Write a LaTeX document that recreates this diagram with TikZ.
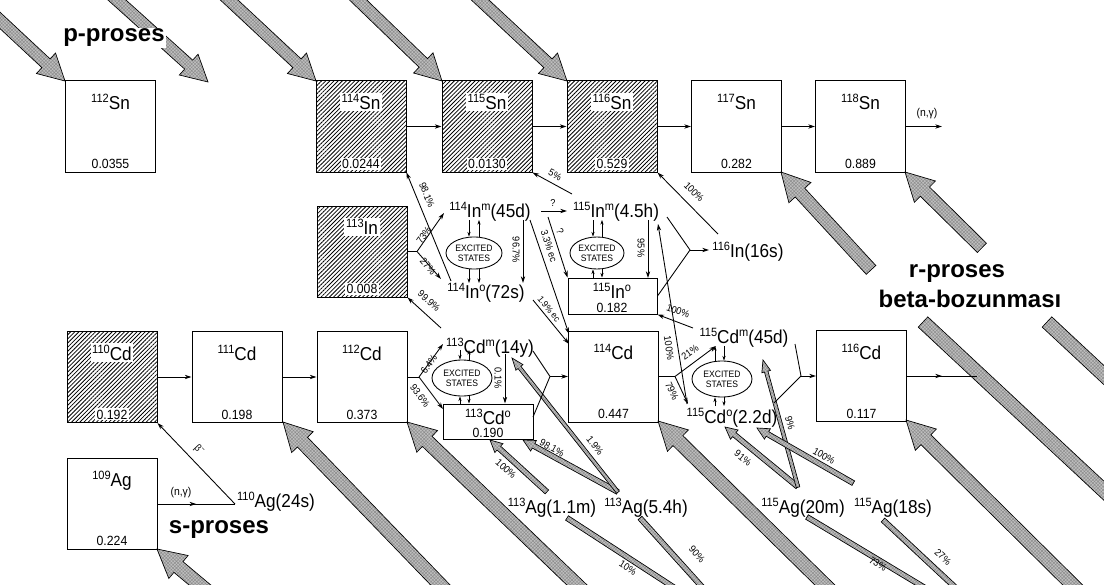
\documentclass[tikz,border=0pt]{standalone}
\usepackage{fontspec}
\setmainfont{Liberation Sans}[FakeStretch=0.92]
\newfontfamily\procfont{Liberation Sans}
\usetikzlibrary{arrows.meta,calc,patterns,patterns.meta,decorations.markings,shapes.geometric}
\newcommand{\nuc}[2]{\raisebox{5.2pt}{\fontsize{9}{9}\selectfont #1}#2}
\newcommand{\sps}[1]{\raisebox{5.2pt}{\fontsize{9}{9}\selectfont #1}}
\newcommand{\GrArrow}[6]{\begin{scope}[shift={#1},rotate=#2]\path[garr] (0,0) -- (-#6,#5) -- (-#6,#4) -- (-#3,#4) -- (-#3,-#4) -- (-#6,-#4) -- (-#6,-#5) -- cycle;\end{scope}}
\newcommand{\GrStrip}[4]{\begin{scope}[shift={#1},rotate=#2]\path[garr] (0,-#4) rectangle (#3,#4);\end{scope}}
\newcommand{\IsoBox}[6]{\node[#1] (#2) at #3 {};
 \node[iso,anchor=base,#1lab] at ($(#2.north)+(0,29)$) {\nuc{#4}{#5}};
 \node[abund,anchor=base,#1lab] at ($(#2.south)+(0,-4)$) {#6};}
\begin{document}
\begin{tikzpicture}[x=0.75pt,y=-0.75pt,
 garr/.style={draw=black, line width=0.5pt, preaction={fill=gray!50}, pattern={Hatch[angle=45,distance=1.8pt,line width=0.35pt]}, pattern color=black!45},
 box/.style={draw, line width=0.75pt, minimum width=67.5pt, minimum height=68.25pt, inner sep=0pt},
 hbox/.style={box, pattern={Lines[angle=45,distance=2.2pt,line width=0.6pt]}},
 boxlab/.style={},
 hboxlab/.style={fill=white},
 iso/.style={font=\fontsize{14}{16}\selectfont, inner sep=1.2pt},
 abund/.style={font=\fontsize{10}{12}\selectfont, inner sep=1pt},
 lbl/.style={font=\fontsize{14}{16}\selectfont, inner sep=0pt, anchor=base},
 pct/.style={font=\fontsize{7.5}{8}\selectfont, inner sep=0.3pt},
 proc/.style={font=\procfont\fontsize{18}{20}\selectfont\bfseries, inner sep=0pt, anchor=base},
 exc/.style={ellipse, draw, line width=0.65pt, inner sep=0pt, align=center, font=\fontsize{7}{7.6}\selectfont},
 ln/.style={line width=0.65pt},
 conn/.style={line width=0.65pt, -{Stealth[length=5pt,width=3.2pt]}},
 sconn/.style={line width=0.5pt, -{Stealth[length=3.5pt,width=2.4pt]}},
 midarr/.style={line width=0.65pt, postaction={decorate}, decoration={markings, mark=at position 0.5 with {\arrow{Stealth[length=5pt,width=3.2pt]}}}}
]
\useasboundingbox (0,0) rectangle (1104,585);
\clip (0,0) rectangle (1104,585);

% ---------- big grey process arrows ----------
% p-process
\GrArrow{(65,81)}{-43}{140}{6}{14}{26}
\GrArrow{(208,82)}{-42}{140}{6}{14}{26}
\GrArrow{(316,81)}{-43}{140}{6}{14}{26}
\GrArrow{(442,81)}{-44}{140}{6}{14}{26}
\GrArrow{(567,81)}{-43}{140}{6}{14}{26}
% r-process
\GrArrow{(781,172)}{132.6}{133}{6.5}{15}{28}
\GrArrow{(905,172)}{135.4}{108}{6.5}{15}{28}
\GrStrip{(923,322)}{-43}{260}{7}
\GrStrip{(1047,322)}{-43}{120}{7}
\GrArrow{(157,549)}{140}{90}{7}{15}{28}
\GrArrow{(283,422)}{134}{260}{7}{15}{28}
\GrArrow{(407,422)}{136.2}{260}{7}{15}{28}
\GrArrow{(658,421)}{135.5}{260}{7}{15}{28}
\GrArrow{(906,420)}{135.3}{260}{7}{15}{28}
% beta decays of Ag
\GrArrow{(490,440)}{137.6}{77}{2.6}{6}{12}
\GrArrow{(523,440)}{151.3}{108}{2.6}{6}{12}
\GrArrow{(512,358)}{128.3}{171}{1.8}{4.5}{12}
\GrArrow{(725,427)}{140.6}{94}{2.6}{6}{12}
\GrArrow{(763,360)}{105.4}{132}{1.8}{4.5}{12}
\GrArrow{(757,428)}{150.2}{111}{2.6}{6}{12}
\GrStrip{(567,518)}{-33}{150}{2.6}
\GrStrip{(640,518)}{-48}{120}{2.6}
\GrStrip{(807,517)}{-31}{150}{2.6}
\GrStrip{(883,520)}{-43}{120}{2.6}

% ---------- boxes ----------
\IsoBox{box}{sn112}{(110.5,126.5)}{112}{Sn}{0.0355}
\IsoBox{hbox}{sn114}{(361,126.5)}{114}{Sn}{0.0244}
\IsoBox{hbox}{sn115}{(487,126.5)}{115}{Sn}{0.0130}
\IsoBox{hbox}{sn116}{(612,126.5)}{116}{Sn}{0.529}
\IsoBox{box}{sn117}{(736.5,126.5)}{117}{Sn}{0.282}
\IsoBox{box}{sn118}{(860.5,126.5)}{118}{Sn}{0.889}
\IsoBox{hbox}{in113}{(362,251.5)}{113}{In}{0.008}
\IsoBox{hbox}{cd110}{(112,377)}{110}{Cd}{0.192}
\IsoBox{box}{cd111}{(237,377)}{111}{Cd}{0.198}
\IsoBox{box}{cd112}{(362,377)}{112}{Cd}{0.373}
\IsoBox{box}{cd114}{(613.5,376.5)}{114}{Cd}{0.447}
\IsoBox{box}{cd116}{(861.5,376)}{116}{Cd}{0.117}
\IsoBox{box}{ag109}{(112,503.5)}{109}{Ag}{0.224}

\node[draw, line width=0.75pt, minimum width=67.5pt, minimum height=26.25pt, inner sep=0pt] (cd113g) at (488,421.5) {};
\node[lbl] at (488,424) {\nuc{113}{Cd}\sps{o}};
\node[abund, anchor=base] at (488,437) {0.190};
\node[draw, line width=0.75pt, minimum width=66.75pt, minimum height=27pt, inner sep=0pt] (in115g) at (612.5,296) {};
\node[lbl] at (612,298) {\nuc{115}{In}\sps{o}};
\node[abund, anchor=base] at (612,312) {0.182};

% ---------- nuclide labels ----------
\node[lbl] (in114m) at (490,217) {\nuc{114}{In}\sps{m}(45d)};
\node[lbl] (in115m) at (616,217) {\nuc{115}{In}\sps{m}(4.5h)};
\node[lbl] (in114g) at (486,298) {\nuc{114}{In}\sps{o}(72s)};
\node[lbl] (in116) at (748,257) {\nuc{116}{In}(16s)};
\node[lbl] (cd113m) at (490,353) {\nuc{113}{Cd}\sps{m}(14y)};
\node[lbl] (cd115m) at (744,343) {\nuc{115}{Cd}\sps{m}(45d)};
\node[lbl] (cd115g) at (732,423) {\nuc{115}{Cd}\sps{o}(2.2d)};
\node[lbl] (ag113a) at (552,513) {\nuc{113}{Ag}(1.1m)};
\node[lbl] (ag113b) at (646,513) {\nuc{113}{Ag}(5.4h)};
\node[lbl] (ag115a) at (803,513) {\nuc{115}{Ag}(20m)};
\node[lbl] (ag115b) at (893,513) {\nuc{115}{Ag}(18s)};
\node[lbl] (ag110) at (276,507) {\nuc{110}{Ag}(24s)};

% ---------- excited states ----------
\node[exc, minimum width=42pt, minimum height=24pt] (e114) at (474,253) {EXCITED\\STATES};
\node[exc, minimum width=40.5pt, minimum height=24pt] (e115) at (597,253) {EXCITED\\STATES};
\node[exc, minimum width=45pt, minimum height=27pt] (e113) at (462,378) {EXCITED\\STATES};
\node[exc, minimum width=45pt, minimum height=27pt] (e115c) at (722,379) {EXCITED\\STATES};

\draw[sconn] (469,220) -- (e114.north -| 469,0);
\draw[sconn] (e114.north -| 479,0) -- (479,220);
\draw[sconn] (e114.south -| 469,0) -- (469,283);
\draw[sconn] (479,269) -- (479,283);
\draw[sconn] (593,220) -- (e115.north -| 593,0);
\draw[sconn] (e115.north -| 602,0) -- (602,220);
\draw[sconn] (in115g.north -| 593,0) -- (e115.south -| 593,0);
\draw[sconn] (e115.south -| 602,0) -- (in115g.north -| 602,0);
\draw[sconn] (460,350) -- (e113.north -| 460,0);
\draw[sconn] (e113.north -| 469,0) -- (469,350);
\draw[sconn] (cd113g.north -| 460,0) -- (e113.south -| 460,0);
\draw[sconn] (e113.south -| 469,0) -- (cd113g.north -| 469,0);
\draw[sconn] (e115c.north -| 715,0) -- (715,346);
\draw[sconn] (724,346) -- (e115c.north -| 724,0);
\draw[sconn] (715,406) -- (e115c.south -| 715,0);
\draw[sconn] (e115c.south -| 724,0) -- (724,406);

% ---------- coordinates ----------
\coordinate (ngout) at (942,126.5);
\coordinate (b112) at (419,377);
\coordinate (t64) at (443,344);
\coordinate (t936) at (443,409);
\coordinate (b113) at (417,251.5);
\coordinate (t73) at (444,213);
\coordinate (t27) at (441,279);
\coordinate (s981) at (451,281);
\coordinate (s999) at (441,328);
\coordinate (s967) at (523,220);
\coordinate (t967) at (523,283);
\coordinate (s33) at (530,220);
\coordinate (t33) at (569,334);
\coordinate (s19) at (533,300);
\coordinate (t19) at (569,344);
\coordinate (sq1) at (541,211);
\coordinate (tq1) at (567,211);
\coordinate (sq2) at (548,217);
\coordinate (s5) at (572,194);
\coordinate (s116) at (718,234);
\coordinate (s95) at (648,220);
\coordinate (t95) at (648,278);
\coordinate (s115m) at (667,217);
\coordinate (bIn) at (690,250);
\coordinate (t116) at (709,250);
\coordinate (s100a) at (693,328);
\coordinate (s100b) at (687,404);
\coordinate (t100b) at (658,224);
\coordinate (b114) at (675,376.5);
\coordinate (t21) at (716,346);
\coordinate (t79) at (688,404);
\coordinate (s113m) at (533,351);
\coordinate (s113g) at (533,417);
\coordinate (b113cd) at (550,376.5);
\coordinate (s01) at (505,354);
\coordinate (s115cm) at (795,344);
\coordinate (s115cg) at (774,403);
\coordinate (b115) at (801,376);
\coordinate (cdout) at (977,376);
\coordinate (ag110in) at (235,504);

% ---------- connectors ----------
\draw[conn] (sn114.east) -- (sn115.west);
\draw[conn] (sn115.east) -- (sn116.west);
\draw[conn] (sn116.east) -- (sn117.west);
\draw[conn] (sn117.east) -- (sn118.west);
\draw[conn] (sn118.east) -- (ngout);
\node[pct, font=\fontsize{8.5}{9}\selectfont] at (927,114) {(n,γ)};

\draw[conn] (cd110.east) -- (cd111.west);
\draw[conn] (cd111.east) -- (cd112.west);
\draw[ln] (cd112.east) -- (b112);
\draw[conn] (b112) -- (t64);
\draw[conn] (b112) -- (t936);

\draw[ln] (in113.east) -- (b113);
\draw[conn] (b113) -- (t73);
\draw[conn] (b113) -- (t27);
\draw[conn] (s981) -- (sn114.south east);
\draw[conn] (s999) -- (in113.south east);
\draw[conn] (s967) -- (t967);
\draw[conn] (s33) -- (t33);
\draw[conn] (s19) -- (t19);
\draw[conn] (sq1) -- (tq1);
\draw[conn] (sq2) -- (in115g.north west);
\draw[conn] (s5) -- (sn115.south east);
\draw[conn] (s116) -- (sn116.south east);
\draw[conn] (s95) -- (t95);
\draw[ln] (s115m) -- (bIn);
\draw[ln] (in115g.east) -- (bIn);
\draw[conn] (bIn) -- (t116);
\draw[conn] (s100a) -- (in115g.south east);
\draw[conn] (s100b) -- (t100b);
\draw[ln] (cd114.east) -- (b114);
\draw[conn] (b114) -- (t21);
\draw[conn] (b114) -- (t79);
\draw[ln] (s113m) -- (b113cd);
\draw[ln] (s113g) -- (b113cd);
\draw[conn] (b113cd) -- (cd114.west);
\draw[conn] (s01) -- (cd113g.north -| s01);
\draw[ln] (s115cm) -- (b115);
\draw[ln] (s115cg) -- (b115);
\draw[conn] (b115) -- (cd116.west);
\draw[midarr] (cd116.east) -- (cdout);
\draw[midarr] (ag109.east |- ag110in) -- (ag110in);
\node[pct, font=\fontsize{8.5}{9}\selectfont] at (181,493) {(n,γ)};
\draw[conn] (ag110in) -- (cd110.south east);

% ---------- branching labels ----------
\node[pct, rotate=-46] at (199,450) {β\textsuperscript{−}};
\node[pct, rotate=-68] at (427,195) {98.1\%};
\node[pct, rotate=-28] at (555,175) {5\%};
\node[pct, rotate=-45] at (694,192) {100\%};
\node[pct, rotate=56] at (424,235) {73\%};
\node[pct, rotate=-50] at (428,266) {27\%};
\node[pct, rotate=-42] at (429,301) {99.9\%};
\node[pct, rotate=-90] at (516,250) {96.7\%};
\node[pct, rotate=-72] at (549,246) {3.3\% ec};
\node[pct, rotate=-51, font=\fontsize{6.8}{7}\selectfont] at (549,309) {1.9\% ec};
\node[pct] at (553,203) {?};
\node[pct, rotate=-65] at (560,231) {?};
\node[pct, rotate=-90] at (641,248) {95\%};
\node[pct, rotate=-19] at (678,311) {100\%};
\node[pct, rotate=-81] at (669,348) {100\%};
\node[pct, rotate=36] at (690,352) {21\%};
\node[pct, rotate=-65] at (672,391) {79\%};
\node[pct, rotate=56] at (429,364) {6.4\%};
\node[pct, rotate=-54] at (420,396) {93.6\%};
\node[pct, rotate=-90] at (498,378) {0.1\%};
\node[pct, rotate=-42] at (506,469) {100\%};
\node[pct, rotate=-29] at (552,448) {98.1\%};
\node[pct, rotate=-52] at (595,446) {1.9\%};
\node[pct, rotate=-75] at (790,423) {9\%};
\node[pct, rotate=-39] at (743,458) {91\%};
\node[pct, rotate=-30] at (824,456) {100\%};
\node[pct, rotate=-33] at (628,568) {10\%};
\node[pct, rotate=-48] at (697,554) {90\%};
\node[pct, rotate=-31] at (878,564) {73\%};
\node[pct, rotate=-43] at (943,557) {27\%};

% ---------- process labels ----------
\node[proc, fill=white, inner sep=1pt] (pp) at (114,42) {p-proses};
\node[proc] (sp) at (219,533) {s-proses};
\node[proc] (rp) at (957,277) {r-proses};
\node[proc] (bb) at (970,307) {beta-bozunması};
\end{tikzpicture}
\end{document}
